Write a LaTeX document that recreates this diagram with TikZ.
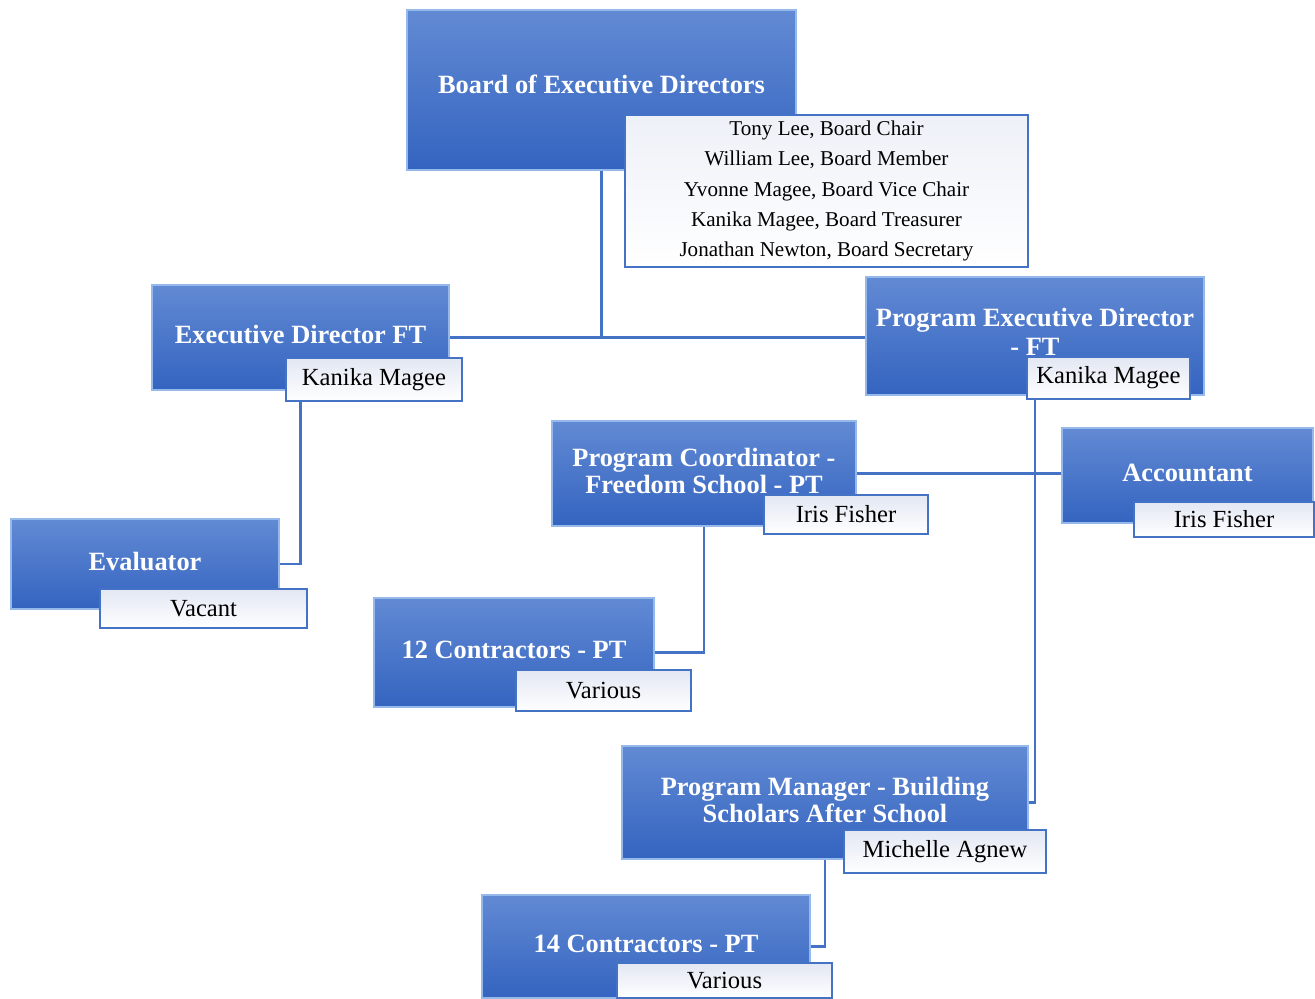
\documentclass[tikz,border=0pt]{standalone}
\usepackage{fontspec}
\setmainfont{Liberation Serif}
\usetikzlibrary{backgrounds}
\definecolor{boxtop}{RGB}{98,138,212}
\definecolor{boxbot}{RGB}{52,100,192}
\definecolor{boxedge}{RGB}{150,185,235}
\definecolor{linkblue}{RGB}{68,114,196}
\definecolor{tagtop}{RGB}{226,231,243}
\tikzstyle{role} = [rectangle, top color=boxtop, bottom color=boxbot, draw=boxedge, line width=1pt, text=white, align=center, font=\fontsize{15}{15.5}\selectfont\bfseries, inner sep=0pt, text depth=0.12cm]
\tikzstyle{tag} = [rectangle, top color=tagtop, bottom color=white, draw=linkblue, line width=1pt, text=black, align=center, font=\fontsize{14}{15}\selectfont, inner sep=0pt]
\tikzstyle{link} = [linkblue, line width=1.5pt]

\begin{document}
\begin{tikzpicture}
            \useasboundingbox (0,0) rectangle (26.3,-19.98);
            \node [role, minimum width=7.78cm, minimum height=3.2cm] at (12.03,-1.8) (board) {\raisebox{0.12cm}{Board of Executive Directors}};
            \node [tag, minimum width=8.06cm, minimum height=3.04cm, font=\fontsize{12}{17.3}\selectfont, top color=tagtop!60] at (16.53,-3.82) (members) {Tony Lee, Board Chair\\William Lee, Board Member\\Yvonne Magee, Board Vice Chair\\Kanika Magee, Board Treasurer\\Jonathan Newton, Board Secretary};
            \node [role, minimum width=5.94cm, minimum height=2.1cm] at (6.01,-6.75) (edft) {Executive Director FT};
            \node [tag, minimum width=3.52cm, minimum height=0.86cm] at (7.48,-7.59) (edname) {Kanika Magee};
            \node [role, minimum width=6.76cm, minimum height=2.36cm] at (20.7,-6.72) (pedft) {\raisebox{0.05cm}{\shortstack{Program Executive Director\\- FT}}};
            \node [tag, minimum width=3.26cm, minimum height=0.84cm] at (22.17,-7.56) (pedname) {Kanika Magee};
            \node [role, minimum width=6.08cm, minimum height=2.1cm] at (14.08,-9.47) (coord) {Program Coordinator -\\Freedom School - PT};
            \node [tag, minimum width=3.28cm, minimum height=0.78cm] at (16.92,-10.29) (coordname) {Iris Fisher};
            \node [role, minimum width=5.02cm, minimum height=1.9cm] at (23.75,-9.51) (acct) {Accountant};
            \node [tag, minimum width=3.6cm, minimum height=0.7cm] at (24.48,-10.39) (acctname) {Iris Fisher};
            \node [role, minimum width=5.36cm, minimum height=1.8cm] at (2.9,-11.28) (eval) {Evaluator};
            \node [tag, minimum width=4.14cm, minimum height=0.78cm] at (4.07,-12.17) (evalname) {Vacant};
            \node [role, minimum width=5.6cm, minimum height=2.18cm] at (10.28,-13.05) (contr12) {12 Contractors - PT};
            \node [tag, minimum width=3.5cm, minimum height=0.82cm] at (12.07,-13.81) (contr12name) {Various};
            \node [role, minimum width=8.12cm, minimum height=2.26cm] at (16.5,-16.05) (manager) {Program Manager - Building\\Scholars After School};
            \node [tag, minimum width=4.04cm, minimum height=0.86cm] at (18.9,-17.03) (managername) {Michelle Agnew};
            \node [role, minimum width=6.56cm, minimum height=2.06cm] at (12.92,-18.93) (contr14) {14 Contractors - PT};
            \node [tag, minimum width=4.3cm, minimum height=0.7cm] at (14.49,-19.61) (contr14name) {Various};

            \begin{scope}[on background layer]
            \draw [link] (board.south) -- (board.south |- edft.east);
            \draw [link] (edft.east) -- (edft.east -| pedft.west);
            \draw [link] (edft.south) |- (eval.east);
            \draw [link] (pedft.south) |- (manager.east);
            \draw [link] (coord.east) -- (coord.east -| acct.west);
            \draw [link] (coord.south) |- (contr12.east);
            \draw [link] (manager.south) |- (contr14.east);
            \end{scope}
\end{tikzpicture}
\end{document}
